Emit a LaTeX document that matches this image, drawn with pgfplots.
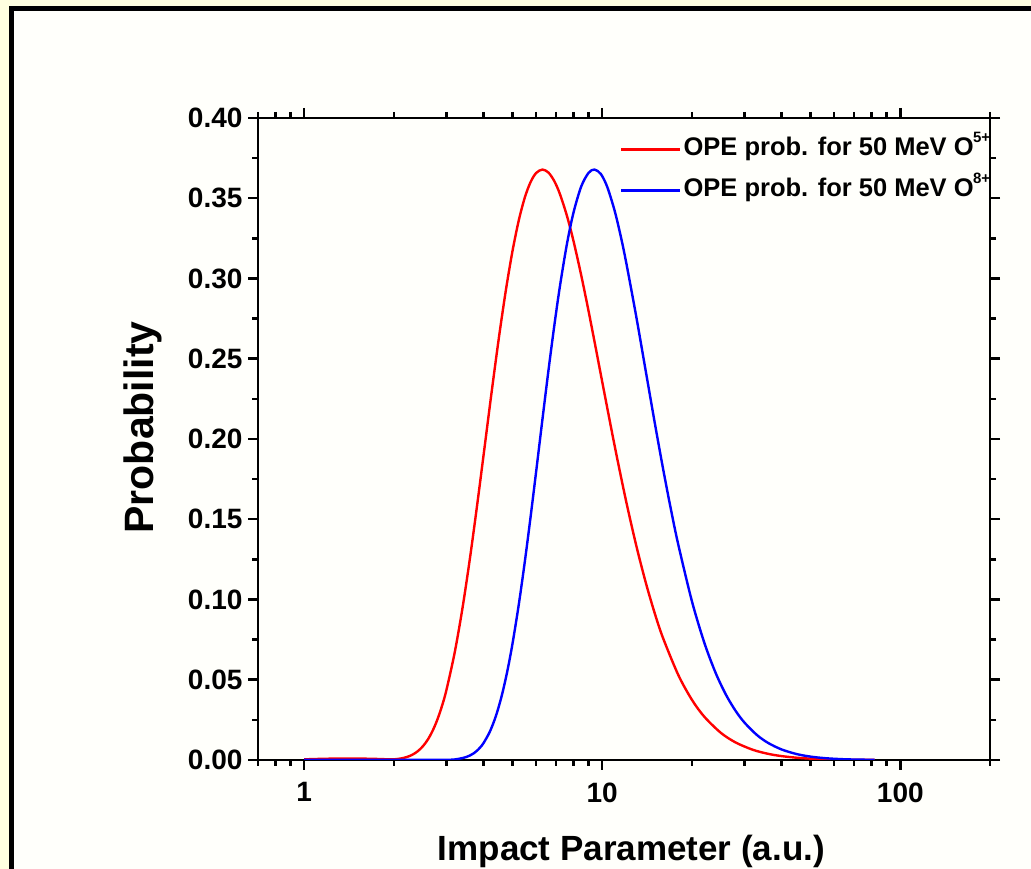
\documentclass[border=0pt]{standalone}
\usepackage{pgfplots}
\pgfplotsset{compat=1.18}
\usepackage{fontspec}
\setmainfont{Liberation Sans}
\definecolor{bgyellow}{RGB}{255,255,224}
\definecolor{panel}{RGB}{255,255,251}
\begin{document}
\begin{tikzpicture}[x=1pt,y=1pt]
\path[use as bounding box] (0,0) rectangle (1031,869);
\clip (0,0) rectangle (1031,869);
\fill[bgyellow] (0,0) rectangle (1031,869);
\draw[line width=4.7pt, fill=panel] (11.7,-40) rectangle (1070,860.7);
\begin{axis}[
  at={(258pt,109pt)}, anchor=south west,
  scale only axis, width=732pt, height=642pt,
  xmode=log, xmin=0.7, xmax=200, ymin=0, ymax=0.4,
  axis line style={line width=2.8pt},
  tick align=outside, tick pos=both,
  major tick length=10pt, minor tick length=6pt,
  every tick/.style={line width=2.5pt, black},
  xtick={1,10,100}, xticklabels={1,10,100},
  minor xtick={0.7,0.8,0.9,2,3,4,5,6,7,8,9,20,30,40,50,60,70,80,90,200},
  ytick={0,0.05,0.1,0.15,0.2,0.25,0.3,0.35,0.4},
  yticklabels={0.00,0.05,0.10,0.15,0.20,0.25,0.30,0.35,0.40},
  minor ytick={0.025,0.075,0.125,0.175,0.225,0.275,0.325,0.375},
  ticklabel style={font=\fontsize{28}{28}\selectfont\bfseries},
  xticklabel style={yshift=-9pt},
  yticklabel style={xshift=-2pt},
  xticklabel pos=bottom, yticklabel pos=left,
  xlabel={Impact Parameter (a.u.)},
  xlabel style={font=\fontsize{35}{35}\selectfont\bfseries, at={(axis description cs:0.51,-0.1558)}, anchor=base},
  ylabel={Probability},
  ylabel style={font=\fontsize{41}{41}\selectfont\bfseries, at={(axis description cs:-0.1434,0.518)}, anchor=base},
  legend image code/.code={\draw[#1] (0pt,-1pt) -- (59pt,-1pt);},
  legend cell align=left,
  legend style={draw=none, fill=none, at={(axis description cs:0.4905,0.979)}, anchor=north west,
    font=\fontsize{25.5}{25.5}\selectfont\bfseries, row sep=11pt,
    nodes={inner sep=2pt, text height=20pt, text depth=6pt}},
]
\addplot[red, line width=2.4pt, smooth] coordinates {
(1.0,0.0004) (1.2,0.0008) (1.5,0.0009) (1.8,0.0006) (1.9,0.0004) (2.0,0.0004)
(2.1,0.00087) (2.2,0.00173) (2.3,0.00315) (2.4,0.00534) (2.5,0.00848) (2.6,0.01277)
(2.7,0.01835) (2.8,0.02532) (2.9,0.03369) (3.0,0.04349) (3.2,0.06708) (3.4,0.09501)
(3.6,0.12585) (3.8,0.15807) (4.0,0.19024) (4.25,0.22849) (4.5,0.26302) (4.75,0.29272)
(5.0,0.31718) (5.25,0.33636) (5.5,0.35053) (5.75,0.36013) (6.0,0.36571) (6.3,0.36788)
(6.6,0.36599) (6.9,0.36080) (7.2,0.35298) (7.6,0.33954) (8.0,0.32373) (8.5,0.30206)
(9.0,0.27957) (9.5,0.25719) (10,0.23558) (11,0.19599) (12,0.16207) (13,0.13378)
(14,0.11049) (15,0.09144) (16,0.07593) (18,0.05294) (20,0.03748) (22,0.02697)
(25,0.01693) (28,0.01095) (32,0.00637) (36,0.00385) (40,0.00241) (45,0.00140)
(50,0.00084) (56,0.00048) (63,0.00026) (70,0.00015) (82,0.00006)
};
\addlegendentry{OPE prob. for 50 MeV O\kern-0.5pt\raisebox{13pt}{\fontsize{15}{15}\selectfont 5+}}
\addplot[blue, line width=2.4pt, smooth] coordinates {
(1.0,0.0001) (2.0,0.0001) (3.0,0.0001) (3.3,0.00072) (3.5,0.00187) (3.6,0.00282)
(3.7,0.00410) (3.8,0.00579) (3.9,0.00795) (4.0,0.01064) (4.2,0.01778) (4.4,0.02752)
(4.6,0.03999) (4.8,0.05507) (5.0,0.07252) (5.25,0.09706) (5.5,0.12372) (5.75,0.15154)
(6.0,0.17952) (6.3,0.21213) (6.6,0.24261) (6.9,0.27014) (7.2,0.29425) (7.6,0.32072)
(8.0,0.34071) (8.5,0.35731) (9.0,0.36585) (9.42,0.36788) (9.9,0.36504) (10.4,0.35696)
(11,0.34237) (11.5,0.32750) (12,0.31112) (13,0.27646) (14,0.24216) (15,0.21021)
(16,0.18147) (17,0.15613) (18,0.13411) (20,0.09885) (22,0.07311) (24,0.05438)
(26,0.04070) (28,0.03070) (30,0.02333) (33,0.01565) (36,0.01066) (40,0.00654)
(45,0.00365) (50,0.00210) (56,0.00112) (63,0.00056) (70,0.00029) (82,0.00010)
};
\addlegendentry{OPE prob. for 50 MeV O\kern-0.5pt\raisebox{13pt}{\fontsize{15}{15}\selectfont 8+}}
\end{axis}
\end{tikzpicture}
\end{document}
